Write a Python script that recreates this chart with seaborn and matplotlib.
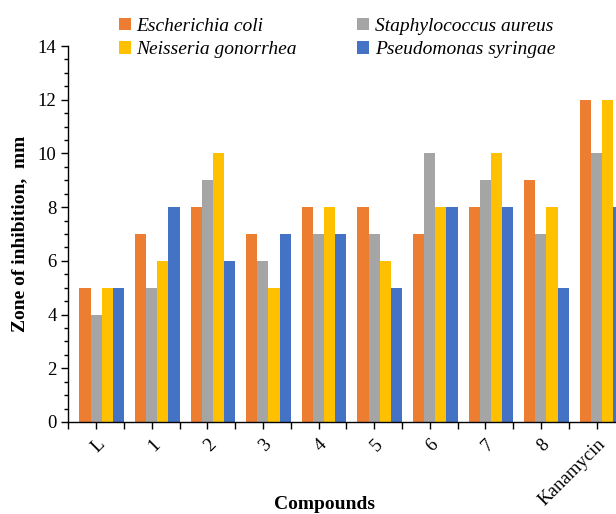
import numpy as np
import pandas as pd
import seaborn as sns
from matplotlib import pyplot as plt
from matplotlib.ticker import MultipleLocator, FixedLocator

compounds = ["L", "1", "2", "3", "4", "5", "6", "7", "8", "Kanamycin"]
strains = ["Escherichia coli", "Staphylococcus aureus", "Neisseria gonorrhea", "Pseudomonas syringae"]
ecoli = [5, 7, 8, 7, 8, 8, 7, 8, 9, 12]
saureus = [4, 5, 9, 6, 7, 7, 10, 9, 7, 10]
ngonorrhea = [5, 6, 10, 5, 8, 6, 8, 10, 8, 12]
psyringae = [5, 8, 6, 7, 7, 5, 8, 8, 5, 8]
colors = ["#ED7D31", "#A5A5A5", "#FFC000", "#4472C4"]

df = pd.DataFrame({
    "compound": compounds * 4,
    "strain": np.repeat(strains, len(compounds)),
    "zone": ecoli + saureus + ngonorrhea + psyringae,
})

sns.set_style("ticks")
plt.rcParams["font.family"] = ["Liberation Serif", "DejaVu Serif"]
plt.rcParams.update({"text.color": "black", "axes.labelcolor": "black",
                     "xtick.color": "black", "ytick.color": "black"})

fig = plt.figure(figsize=(6.16, 5.14), dpi=100)
ax = fig.add_axes([0.1109, 0.179, 0.9026, 0.7315])

sns.barplot(data=df, x="compound", y="zone", hue="strain", palette=colors,
            saturation=1, width=0.8, linewidth=0, ax=ax)

# category cells are shifted so the bars sit in the right 4/5 of each cell
ax.set_xlim(-0.6, 9.4)
ax.set_ylim(0, 14)
ax.xaxis.set_major_locator(FixedLocator(np.arange(10) - 0.1))
ax.xaxis.set_minor_locator(FixedLocator(np.arange(11) - 0.6))
ax.set_xticklabels(compounds, rotation=45, ha="right", rotation_mode="anchor", fontsize=13.5)
ax.yaxis.set_major_locator(MultipleLocator(2))
ax.yaxis.set_minor_locator(MultipleLocator(0.5))
ax.tick_params(axis="y", which="major", length=5, width=1, labelsize=13.5, color="black")
ax.tick_params(axis="y", which="minor", length=3, width=1, color="black")
ax.tick_params(axis="x", which="both", length=5, width=1, color="black")
ax.tick_params(axis="x", which="major", pad=5)
for s in ["top", "right"]:
    ax.spines[s].set_visible(False)
for s in ["left", "bottom"]:
    ax.spines[s].set_color("black")
    ax.spines[s].set_linewidth(1)

ax.set_xlabel("Compounds", fontsize=14, fontweight="bold")
ax.xaxis.set_label_coords(0.46, -0.197)
ax.set_ylabel("Zone of inhibition,  mm", fontsize=14, fontweight="bold")
ax.yaxis.set_label_coords(-0.072, 0.5)

handles, labels = ax.get_legend_handles_labels()
ax.get_legend().remove()
order = [0, 2, 1, 3]
fig.legend([handles[i] for i in order], [labels[i] for i in order], ncol=2,
           loc="upper left", bbox_to_anchor=(0.165, 1.0), frameon=False,
           prop={"style": "italic", "size": 14}, handlelength=0.6, handleheight=0.6,
           handletextpad=0.3, columnspacing=3.1, labelspacing=0.35)

fig.savefig("out.png", dpi=100)
